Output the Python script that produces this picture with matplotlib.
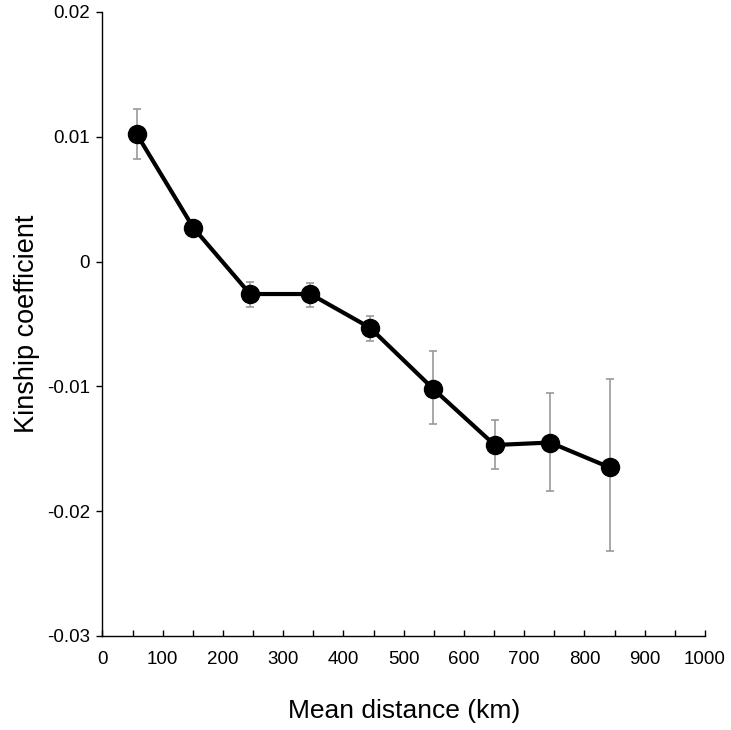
import numpy as np
import matplotlib.pyplot as plt

plt.rcParams['font.family'] = ['Liberation Sans', 'DejaVu Sans']

# values
distance = [57, 151, 245, 345, 444, 549, 651, 743, 842]
kinship = [0.0102, 0.0027, -0.0026, -0.0026, -0.0053, -0.0102, -0.0147, -0.0145, -0.0165]
err_top = [0.0122, 0.0027, -0.0016, -0.0017, -0.0044, -0.0072, -0.0127, -0.0105, -0.0094]
err_bot = [0.0082, 0.0027, -0.0036, -0.0036, -0.0064, -0.0130, -0.0166, -0.0184, -0.0232]

kinship = np.array(kinship)
yerr = [kinship - np.array(err_bot), np.array(err_top) - kinship]

fig = plt.figure(figsize=(7.31, 7.30), dpi=100)
ax = fig.add_axes([0.1402, 0.1288, 0.8242, 0.8548])

ax.errorbar(distance, kinship, yerr=yerr, fmt='none', ecolor='#999999',
            elinewidth=1.2, capsize=2.7, capthick=1.2, zorder=1)
ax.plot(distance, kinship, color='black', lw=3, marker='o', ms=13, zorder=2)

ax.set_xlim(0, 1000)
ax.set_ylim(-0.03, 0.02)
ax.set_xticks(np.arange(0, 1001, 100))
ax.set_xticks(np.arange(0, 1001, 50), minor=True)
ax.set_yticks([-0.03, -0.02, -0.01, 0, 0.01, 0.02])
ax.set_yticklabels(['-0.03', '-0.02', '-0.01', '0', '0.01', '0.02'])

for s in ['top', 'right']:
    ax.spines[s].set_visible(False)
for s in ['left', 'bottom']:
    ax.spines[s].set_linewidth(1.0)

ax.tick_params(axis='x', which='both', direction='in', length=4, width=1, labelsize=13.5, pad=11)
ax.tick_params(axis='y', direction='out', length=4, width=1, labelsize=13.5, pad=5)

ax.set_xlabel('Mean distance (km)', fontsize=19, labelpad=22)
ax.set_ylabel('Kinship coefficient', fontsize=19.5, labelpad=5)

fig.savefig('out.png', dpi=100)
